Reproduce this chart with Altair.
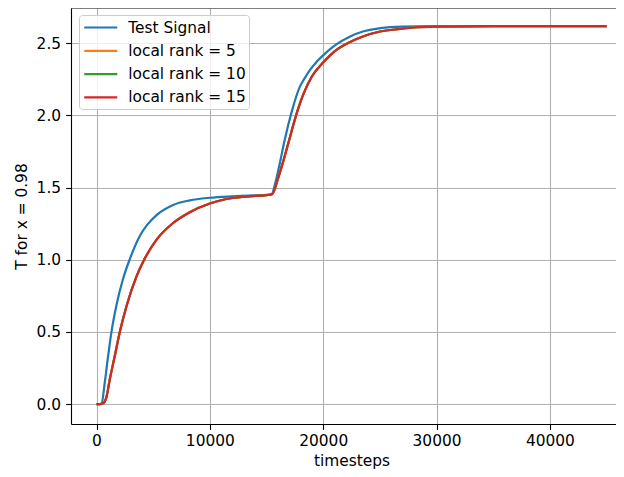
import altair as alt
import pandas as pd

# ---- data ----
series_names = ["Test Signal", "local rank = 5", "local rank = 10", "local rank = 15"]
series_colors = ["#1f77b4", "#ff7f0e", "#2ca02c", "#d62728"]

x_signal = [0, 250, 450, 730, 1020, 1320, 1760, 2350, 2940, 3820, 4500, 5300, 6760, 8230,
            10000, 12000, 14000, 15000, 15450, 15800, 16200, 16600, 17200, 17940,
            18300, 18820, 19400, 20030, 21000, 22380, 23500, 25030, 27000, 30000,
            35000, 40000, 45000]
y_signal = [0.0, 0.0, 0.005, 0.15, 0.33, 0.50, 0.685, 0.87, 1.005, 1.165, 1.245, 1.31, 1.38, 1.412,
            1.43, 1.44, 1.447, 1.45, 1.455, 1.54, 1.68, 1.83, 2.02, 2.20,
            2.25, 2.315, 2.37, 2.42, 2.485, 2.548, 2.582, 2.605, 2.616, 2.619,
            2.62, 2.62, 2.62]

x_rank = [0, 300, 590, 880, 1170, 1615, 2055, 2650, 3530, 4200, 5300, 6760, 8230,
          10000, 11000, 12000, 13500, 15000, 15500, 16000, 16500, 17000, 17380, 17800,
          18260, 19000, 20030, 21000, 22380, 23500, 25030, 26790, 28000, 30000,
          35000, 40000, 45000]
y_rank5 = [0.0, 0.0, 0.005, 0.05, 0.17, 0.335, 0.50, 0.68, 0.885, 1.0, 1.14, 1.255, 1.33,
           1.39, 1.413, 1.428, 1.44, 1.448, 1.455, 1.56, 1.69, 1.83, 1.94, 2.05,
           2.15, 2.27, 2.37, 2.445, 2.51, 2.548, 2.582, 2.60, 2.61, 2.616,
           2.62, 2.62, 2.62]
y_rank10 = [0.0, 0.0, 0.005, 0.05, 0.17, 0.335, 0.50, 0.68, 0.885, 1.0, 1.14, 1.255, 1.33,
            1.39, 1.413, 1.428, 1.44, 1.448, 1.455, 1.56, 1.69, 1.83, 1.94, 2.05,
            2.15, 2.27, 2.37, 2.445, 2.51, 2.548, 2.582, 2.60, 2.61, 2.616,
            2.62, 2.62, 2.62]
y_rank15 = [0.0, 0.0, 0.005, 0.05, 0.17, 0.335, 0.50, 0.68, 0.885, 1.0, 1.14, 1.255, 1.33,
            1.39, 1.413, 1.428, 1.44, 1.448, 1.455, 1.56, 1.69, 1.83, 1.94, 2.05,
            2.15, 2.27, 2.37, 2.445, 2.51, 2.548, 2.582, 2.60, 2.61, 2.616,
            2.62, 2.62, 2.62]

x_ticks = [0, 10000, 20000, 30000, 40000]
y_ticks = [0.0, 0.5, 1.0, 1.5, 2.0, 2.5]

rows = []
for xs, ys, name in [(x_signal, y_signal, series_names[0]),
                     (x_rank, y_rank5, series_names[1]),
                     (x_rank, y_rank10, series_names[2]),
                     (x_rank, y_rank15, series_names[3])]:
    for xv, yv in zip(xs, ys):
        rows.append({"t": xv, "T": yv, "series": name})
df = pd.DataFrame(rows)

FONT = "DejaVu Sans"
FS = 15.4
W, H = 545, 416

color = alt.Color(
    "series:N",
    scale=alt.Scale(domain=series_names, range=series_colors),
    legend=alt.Legend(
        title=None, orient="none", legendX=8, legendY=7,
        symbolType="M-2,0H2", symbolSize=272, symbolStrokeWidth=2.2,
        symbolFillColor="transparent", symbolOffset=9.25,
        labelFontSize=FS, labelFont=FONT, labelColor="black",
        labelOffset=18, rowPadding=5.3, padding=3,
        strokeColor="#cccccc", fillColor="rgba(255,255,255,0.8)",
        cornerRadius=3,
    ),
)

x_enc = alt.X(
    "t:Q",
    scale=alt.Scale(domain=[-2250, 45830], nice=False, zero=False),
    axis=alt.Axis(values=x_ticks, format="d", title="timesteps",
                  titleX=280.5, titleY=41.5, titleBaseline="alphabetic",
                  titleAlign="center", labelPadding=4),
)
y_enc = alt.Y(
    "T:Q",
    scale=alt.Scale(domain=[-0.138, 2.745], nice=False, zero=False),
    axis=alt.Axis(values=y_ticks, format=".1f", title="T for x = 0.98",
                  titleX=-45, titleY=208, titleAngle=270,
                  titleBaseline="alphabetic", titleAlign="center",
                  labelPadding=5),
)

base = alt.Chart(df)
layers = [
    base.transform_filter(alt.datum.series == name)
    .mark_line(strokeWidth=2.2, interpolate="monotone", clip=True)
    .encode(x=x_enc, y=y_enc, color=color)
    for name in series_names
]

# top frame line (matplotlib top spine); the right spine lies outside the picture
top_spine = alt.Chart(pd.DataFrame({"k": [0]})).mark_rule(
    color="black", strokeWidth=1.1
).encode(x=alt.value(0), x2=alt.value(W), y=alt.value(0))

chart = (
    alt.layer(*layers, top_spine)
    .properties(width=W, height=H,
                padding={"left": 63, "top": 0, "right": 0, "bottom": 45},
                autosize=alt.AutoSizeParams(type="none"))
    .configure(font=FONT)
    .configure_view(strokeWidth=0)
    .configure_axis(
        domainColor="black", domainWidth=1.1,
        tickColor="black", tickSize=5.4, tickWidth=1.1,
        gridColor="#b0b0b0", gridWidth=1.1,
        labelFont=FONT, labelFontSize=FS, labelColor="black",
        titleFont=FONT, titleFontSize=FS, titleColor="black",
        titleFontWeight="normal",
    )
)

chart.save("out.html", embed_options={"renderer": "svg", "actions": False})
